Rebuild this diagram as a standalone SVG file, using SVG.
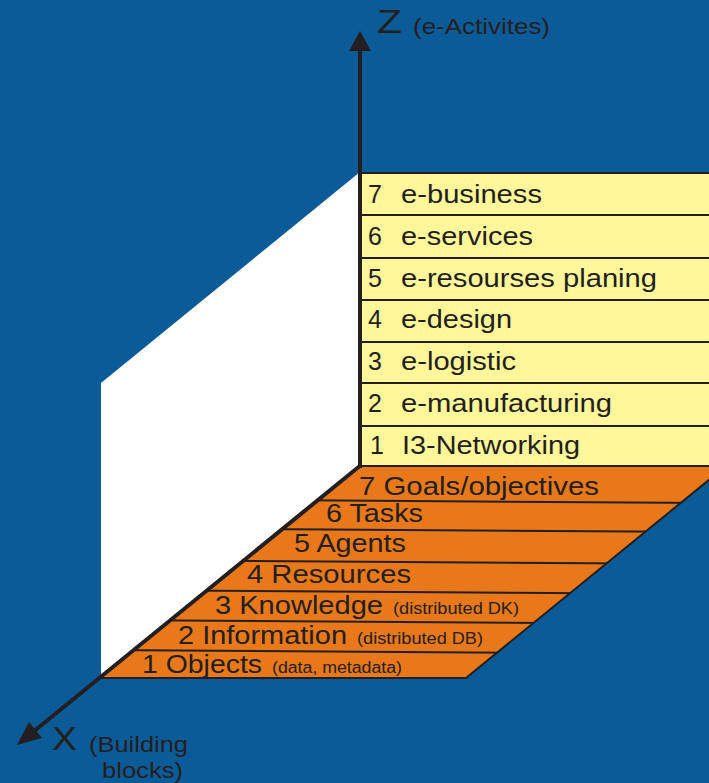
<svg xmlns="http://www.w3.org/2000/svg" width="709" height="783" viewBox="0 0 709 783">
<defs>
<style>
.t{font-family:"Liberation Sans",Arial,sans-serif;fill:#231f20}
.y{font-size:25px}
.f{font-size:26px}
.s{font-size:16px}
.row{fill:#fff799;stroke:#231f20;stroke-width:2}
.ln{stroke:#231f20;stroke-width:2;fill:none}
.ax{stroke:#231f20;stroke-width:4;fill:none}
.hd{fill:#231f20}
</style>
<clipPath id="floorClip"><polygon points="360,466 726,466 466,678 100,678"/></clipPath>
</defs>
<rect x="0" y="0" width="709" height="783" fill="#0b5b98"/>
<g id="wall"><polygon points="101,383 360,172 360,466 101,678" fill="#ffffff"/></g>
<g id="zPanel">
<g id="z7"><rect class="row" x="360" y="173" width="360" height="42"/><text class="t y" x="368" y="203">7</text><text class="t y" x="401" y="203" textLength="141" lengthAdjust="spacingAndGlyphs">e-business</text></g>
<g id="z6"><rect class="row" x="360" y="215" width="360" height="43"/><text class="t y" x="368" y="245">6</text><text class="t y" x="401" y="245" textLength="132" lengthAdjust="spacingAndGlyphs">e-services</text></g>
<g id="z5"><rect class="row" x="360" y="258" width="360" height="42"/><text class="t y" x="368" y="287">5</text><text class="t y" x="401" y="287" textLength="256" lengthAdjust="spacingAndGlyphs">e-resourses planing</text></g>
<g id="z4"><rect class="row" x="360" y="300" width="360" height="42"/><text class="t y" x="368" y="328">4</text><text class="t y" x="401" y="328" textLength="111" lengthAdjust="spacingAndGlyphs">e-design</text></g>
<g id="z3"><rect class="row" x="360" y="342" width="360" height="41"/><text class="t y" x="368" y="370">3</text><text class="t y" x="401" y="370" textLength="115" lengthAdjust="spacingAndGlyphs">e-logistic</text></g>
<g id="z2"><rect class="row" x="360" y="383" width="360" height="43"/><text class="t y" x="368" y="412">2</text><text class="t y" x="401" y="412" textLength="211" lengthAdjust="spacingAndGlyphs">e-manufacturing</text></g>
<g id="z1"><rect class="row" x="360" y="426" width="360" height="40"/><text class="t y" x="370" y="454">1</text><text class="t y" x="402" y="454" textLength="178" lengthAdjust="spacingAndGlyphs">I3-Networking</text></g>
</g>
<g id="floor">
<polygon points="360,466 726,466 466,678 100,678" fill="#e8781a" stroke="#231f20" stroke-width="2"/>
<g clip-path="url(#floorClip)">
<line class="ln" x1="100" y1="499" x2="720" y2="503"/>
<line class="ln" x1="100" y1="528" x2="720" y2="532"/>
<line class="ln" x1="100" y1="560" x2="720" y2="564"/>
<line class="ln" x1="100" y1="590" x2="720" y2="594"/>
<line class="ln" x1="100" y1="620" x2="720" y2="624"/>
<line class="ln" x1="100" y1="650" x2="720" y2="654"/>
</g>
<g id="f7"><text class="t f" x="359" y="495" textLength="240" lengthAdjust="spacingAndGlyphs">7 Goals/objectives</text></g>
<g id="f6"><text class="t f" x="326" y="522" textLength="97" lengthAdjust="spacingAndGlyphs">6 Tasks</text></g>
<g id="f5"><text class="t f" x="294" y="552" textLength="112" lengthAdjust="spacingAndGlyphs">5 Agents</text></g>
<g id="f4"><text class="t f" x="247" y="583" textLength="164" lengthAdjust="spacingAndGlyphs">4 Resources</text></g>
<g id="f3"><text class="t f" x="215" y="614" textLength="168" lengthAdjust="spacingAndGlyphs">3 Knowledge</text><text class="t s" x="393" y="614" textLength="126" lengthAdjust="spacingAndGlyphs">(distributed DK)</text></g>
<g id="f2"><text class="t f" x="178" y="644" textLength="169" lengthAdjust="spacingAndGlyphs">2 Information</text><text class="t s" x="357" y="644" textLength="126" lengthAdjust="spacingAndGlyphs">(distributed DB)</text></g>
<g id="f1"><text class="t f" x="142" y="673" textLength="120" lengthAdjust="spacingAndGlyphs">1 Objects</text><text class="t s" x="272" y="673" textLength="130" lengthAdjust="spacingAndGlyphs">(data, metadata)</text></g>
</g>
<g id="connectors">
<line class="ax" x1="360" y1="468" x2="360" y2="48"/>
<polygon class="hd" points="360,31 349,51 371,51"/>
<line class="ax" x1="361" y1="465" x2="33" y2="732"/>
<polygon class="hd" points="17,745 29,722 42,738"/>
</g>
<g id="zLabel"><text class="t" x="377" y="33" font-size="33" textLength="25" lengthAdjust="spacingAndGlyphs">Z</text><text class="t" x="413" y="34" font-size="22" textLength="137" lengthAdjust="spacingAndGlyphs">(e-Activites)</text></g>
<g id="xLabel"><text class="t" x="52" y="750" font-size="34" textLength="25" lengthAdjust="spacingAndGlyphs">X</text><text class="t" x="89" y="752" font-size="22" textLength="99" lengthAdjust="spacingAndGlyphs">(Building</text><text class="t" x="102" y="778" font-size="22" textLength="81" lengthAdjust="spacingAndGlyphs">blocks)</text></g>
</svg>
